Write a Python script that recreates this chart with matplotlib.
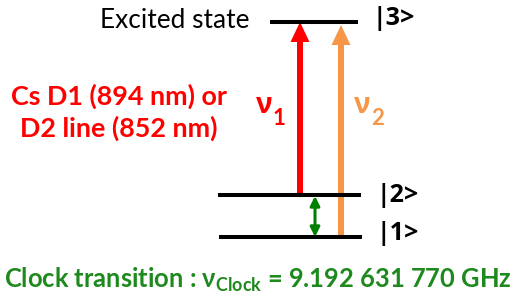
import matplotlib

matplotlib.use("Agg")
import matplotlib.pyplot as plt

# energy levels: label, y position (pixels from top), x extent
level_labels = ["|3>", "|2>", "|1>"]
level_y = [22, 195, 237]
level_x0 = [270, 218, 219]
level_x1 = [358, 361, 362]

# optical transitions: subscript label, colour, x, from level -> to level
beam_labels = ["1", "2"]
beam_colors = ["#FF0000", "#F79646"]
beam_x = [300, 341]
beam_from = [195, 237]
beam_to = [22, 25]

clock_color = "#1E8A1E"
clock_text = "9.192 631 770 GHz"

FAM = ["Lato", "Open Sans", "DejaVu Sans"]
plt.rcParams["font.family"] = FAM
plt.rcParams["mathtext.fontset"] = "custom"
plt.rcParams["mathtext.rm"] = "Lato"
plt.rcParams["mathtext.bf"] = "Lato:bold"

fig = plt.figure(figsize=(5.15, 3.06), dpi=100)
ax = fig.add_axes([0, 0, 1, 1])
ax.set_xlim(0, 515)
ax.set_ylim(306, 0)
ax.axis("off")

label_base = [25, 202, 240]
for lab, y, x0, x1, yb in zip(level_labels, level_y, level_x0, level_x1, label_base):
    ax.plot([x0, x1], [y, y], color="black", lw=2.9, solid_capstyle="butt")
    ax.text(x1 + 15, yb, lab, fontsize=18, fontweight="bold", va="baseline", ha="left",
            family=["Open Sans", "DejaVu Sans"])

ax.text(250, 28, "Excited state", fontsize=18.9, ha="right", va="baseline")

for x, y0, y1, c in zip(beam_x, beam_from, beam_to, beam_colors):
    ax.arrow(x, y0, 0, y1 - y0, width=6, head_width=19, head_length=20,
             length_includes_head=True, color=c, lw=0)

# nu labels
for lab, c, tx in zip(beam_labels, beam_colors, [256, 354]):
    ax.text(tx, 113, "ν", fontsize=20, fontweight="bold", color=c, ha="left",
            va="baseline", family=["Open Sans", "DejaVu Sans"])
    ax.text(tx + 17, 125, lab, fontsize=16, fontweight="bold", color=c, ha="left",
            va="baseline")

ax.text(119, 105, "Cs D1 (894 nm) or", fontsize=19.4, fontweight="bold", color="#FF0000",
        ha="center", va="baseline")
ax.text(119, 137, "D2 line (852 nm)", fontsize=19.4, fontweight="bold", color="#FF0000",
        ha="center", va="baseline")

# clock transition double arrow
ax.annotate("", xy=(315, 237), xytext=(315, 196),
            arrowprops=dict(arrowstyle="<|-|>", color="#008000", lw=2.2, mutation_scale=14,
                            shrinkA=0, shrinkB=0))

ax.text(257.5, 287, r"Clock transition : ν$_{\mathbf{Clock}}$ = " + clock_text,
        fontsize=18.4, fontweight="bold", color=clock_color, ha="center", va="baseline")

fig.savefig("out.png", dpi=100)
